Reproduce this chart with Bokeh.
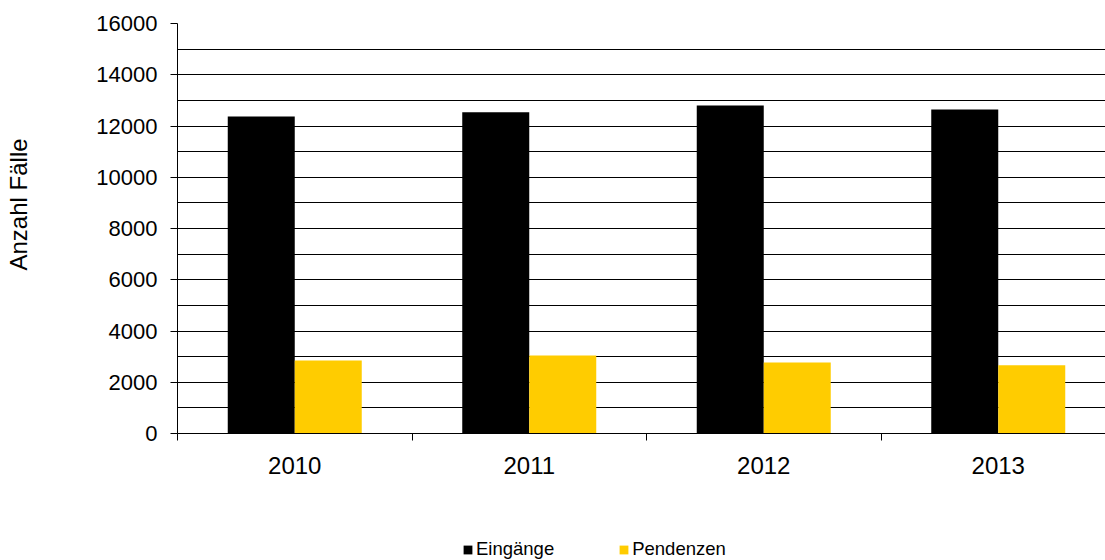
from bokeh.plotting import figure
from bokeh.models import (ColumnDataSource, Range1d, FixedTicker,
                          Legend, LegendItem, Title)
from bokeh.layouts import column, row
from bokeh.transform import dodge
from bokeh.embed import file_html
from bokeh.resources import INLINE

# ---- data ----
categories = ["2010", "2011", "2012", "2013"]
eingaenge = [12370, 12540, 12800, 12640]
pendenzen = [2850, 3040, 2770, 2660]
series_names = ["Eingänge", "Pendenzen"]
y_title = "Anzahl Fälle"
y_ticks = [0, 2000, 4000, 6000, 8000, 10000, 12000, 14000, 16000]
y_grid = list(range(0, 16001, 1000))

FONT = "Liberation Sans"
BLACK = "#000000"
YELLOW = "#FFCC00"
BAR_W = 1.0 / 3.5  # Excel gap width 150 %
LAB_W = 40

pos = [i + 0.5 for i in range(len(categories))]
bounds = [i for i in range(len(categories) + 1)]
src = ColumnDataSource(dict(x=pos, cat=categories, ein=eingaenge, pen=pendenzen))

p = figure(width=1105 - LAB_W, height=528, output_backend="svg", toolbar_location=None,
           x_range=Range1d(0, 928 / 234.5), y_range=Range1d(0, 16000),
           min_border_left=177 - LAB_W, min_border_right=0, min_border_top=23,
           min_border_bottom=95)
p.outline_line_color = None

# grid: every 1000, black
p.xgrid.grid_line_color = None
p.yaxis.ticker = FixedTicker(ticks=y_ticks, minor_ticks=y_grid)
p.ygrid.grid_line_color = BLACK
p.ygrid.minor_grid_line_color = BLACK

p.vbar(x=dodge("x", -BAR_W / 2), top="ein", width=BAR_W, source=src,
       fill_color=BLACK, line_color=None)
p.vbar(x=dodge("x", BAR_W / 2), top="pen", width=BAR_W, source=src,
       fill_color=YELLOW, line_color=None)

# y axis
yax = p.yaxis[0]
yax.axis_line_color = BLACK
yax.major_tick_line_color = BLACK
yax.major_tick_out = 7
yax.major_tick_in = 0
yax.minor_tick_out = 0
yax.minor_tick_in = 0
yax.major_label_text_font = FONT
yax.major_label_text_font_size = "22px"
yax.major_label_text_color = BLACK
yax.major_label_standoff = 13

# x axis: labels centred in categories, boundary ticks as minor ticks
xax = p.xaxis[0]
xax.ticker = FixedTicker(ticks=pos, minor_ticks=bounds)
xax.major_label_overrides = {x: c for x, c in zip(pos, categories)}
xax.axis_line_color = BLACK
xax.major_tick_line_color = None
xax.major_tick_out = 0
xax.major_tick_in = 0
xax.minor_tick_line_color = BLACK
xax.minor_tick_out = 7
xax.minor_tick_in = 0
xax.major_label_text_font = FONT
xax.major_label_text_font_size = "24px"
xax.major_label_text_color = BLACK
xax.major_label_standoff = 16

# narrow strip at the left carrying the y axis title
labfig = figure(width=LAB_W, height=528, output_backend="svg", toolbar_location=None,
                x_range=Range1d(0, 1), y_range=Range1d(0, 1),
                min_border_left=0, min_border_right=0, min_border_top=23,
                min_border_bottom=95, x_axis_type=None, y_axis_type=None)
labfig.outline_line_color = None
labfig.xgrid.grid_line_color = None
labfig.ygrid.grid_line_color = None
labfig.add_layout(Title(text=y_title, align="left", offset=163,
                        vertical_align="bottom",
                        text_font=FONT, text_font_size="24px",
                        text_font_style="normal", text_color=BLACK, standoff=4),
                  "left")

# legend strip below the chart (same series; bars fall outside its view)
lg = figure(width=1105, height=32, output_backend="svg", toolbar_location=None,
            x_range=Range1d(0, 1), y_range=Range1d(20000, 20001),
            min_border=0, x_axis_type=None, y_axis_type=None)
lg.outline_line_color = None
lg.xgrid.grid_line_color = None
lg.ygrid.grid_line_color = None
k1 = lg.vbar(x="x", top="ein", width=BAR_W, source=src, fill_color=BLACK, line_color=None)
k2 = lg.vbar(x="x", top="pen", width=BAR_W, source=src, fill_color=YELLOW, line_color=None)
legend = Legend(items=[LegendItem(label=series_names[0], renderers=[k1]),
                       LegendItem(label=series_names[1], renderers=[k2])],
                orientation="horizontal", location=(462, 0),
                glyph_width=11, glyph_height=11, label_standoff=3, spacing=64,
                padding=0, margin=0, border_line_color=None,
                background_fill_alpha=0,
                label_text_font=FONT, label_text_font_size="18.5px",
                label_text_color=BLACK, label_height=20)
lg.add_layout(legend, "center")

layout = column(row(labfig, p, spacing=0), lg, spacing=0)
open("out.html", "w").write(file_html(layout, INLINE))
